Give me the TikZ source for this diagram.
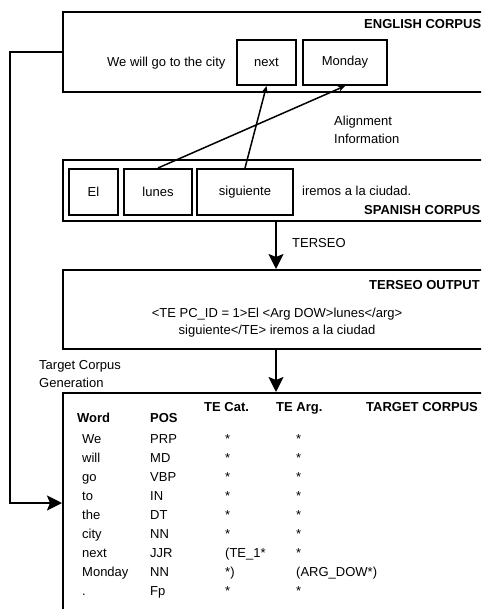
\documentclass[tikz,border=0pt]{standalone}
\usepackage{fontspec}
\setmainfont{Liberation Sans}
\usetikzlibrary{arrows.meta, positioning}

\tikzset{
  corpus/.style={draw, line width=2pt, minimum width=426, inner sep=0},
  wordbox/.style={draw, line width=2pt, minimum height=46, inner sep=0},
  title/.style={font=\fontsize{13}{16}\selectfont\bfseries, anchor=west, inner sep=0,
    text height=9.5pt, text depth=2.7pt},
  txt/.style={anchor=west, inner sep=0, text height=9.5pt, text depth=2.7pt},
  lines/.style={anchor=west, inner sep=0, align=left},
  bigarrow/.style={line width=2pt, -{Stealth[length=15pt,width=15pt,inset=3pt]}},
  alignarrow/.style={line width=1.5pt, -{Stealth[length=7pt,width=6pt]}}
}

\begin{document}
\begin{tikzpicture}[x=1pt, y=-1pt, font=\fontsize{13}{18}\selectfont]
    \clip (0,0) rectangle (481,609);

    % English corpus
    \node[corpus, minimum height=80] (english) at (276,52) {};
    \node[title] (engtitle) at (364,25) {ENGLISH CORPUS};
    \node[txt] (engtext) at (107,63) {We will go to the city};
    \node[wordbox, minimum width=59, minimum height=45] (next) at (266.5,62.5) {next};
    \node[wordbox, minimum width=84, minimum height=45] (monday) at (345,62.5) {Monday};

    % Alignment
    \node[lines] (aligntext) at (334,130) {Alignment\\Information};

    % Spanish corpus
    \node[corpus, minimum height=61] (spanish) at (276,190.5) {};
    \node[wordbox, minimum width=49] (el) at (93.5,192) {El};
    \node[wordbox, minimum width=68] (lunes) at (158,192) {lunes};
    \node[wordbox, minimum width=96] (siguiente) at (245,192) {siguiente};
    \node[txt] (estext) at (302,192) {iremos a la ciudad.};
    \node[title] (estitle) at (364,211) {SPANISH CORPUS};

    \draw[alignarrow] (lunes.north) -- (monday.south);
    \draw[alignarrow] (siguiente.north) -- (next.south);

    % TERSEO output
    \node[corpus, minimum height=79] (terseo) at (276,309.5) {};
    \node[title] (tertitle) at (369,286) {TERSEO OUTPUT};
    \node[align=center, inner sep=0, font=\fontsize{13}{17}\selectfont] (tertext) at (277,322.5)
        {<TE PC\_ID = 1>El <Arg DOW>lunes</arg>\\siguiente</TE> iremos a la ciudad};
    \node[txt] (terlabel) at (292,244) {TERSEO};
    \draw[bigarrow] (spanish.south) -- (terseo.north);

    % Target corpus
    \node[corpus, minimum height=220] (target) at (276,503) {};
    \node[title] (tgttitle) at (366,408) {TARGET CORPUS};
    \node[lines] (tgtlabel) at (39,374.5) {Target Corpus\\Generation};
    \draw[bigarrow] (terseo.south) -- (target.north);
    \draw[bigarrow] (english.west) -- ++(-52,0) |- (target.west);

    % Table
    \node[title] (hword) at (77,419) {Word};
    \node[title] (hpos) at (150,419) {POS};
    \node[title] (hcat) at (204,408) {TE Cat.};
    \node[title] (harg) at (276,408) {TE Arg.};
    \foreach \w/\p/\c/\a [count=\i from 0] in {We/PRP/*/*, will/MD/*/*, go/VBP/*/*,
        to/IN/*/*, the/DT/*/*, city/NN/*/*, next/JJR/{(TE\_1*}/*,
        Monday/NN/{*)}/{(ARG\_DOW*)}, ./Fp/*/*} {
      \node[txt] (w\i) at (82,{440+19*\i}) {\w};
      \node[txt] (p\i) at (150,{440+19*\i}) {\p};
      \node[txt] (c\i) at (225,{440+19*\i}) {\c};
      \node[txt] (a\i) at (296,{440+19*\i}) {\a};
    }
\end{tikzpicture}
\end{document}
